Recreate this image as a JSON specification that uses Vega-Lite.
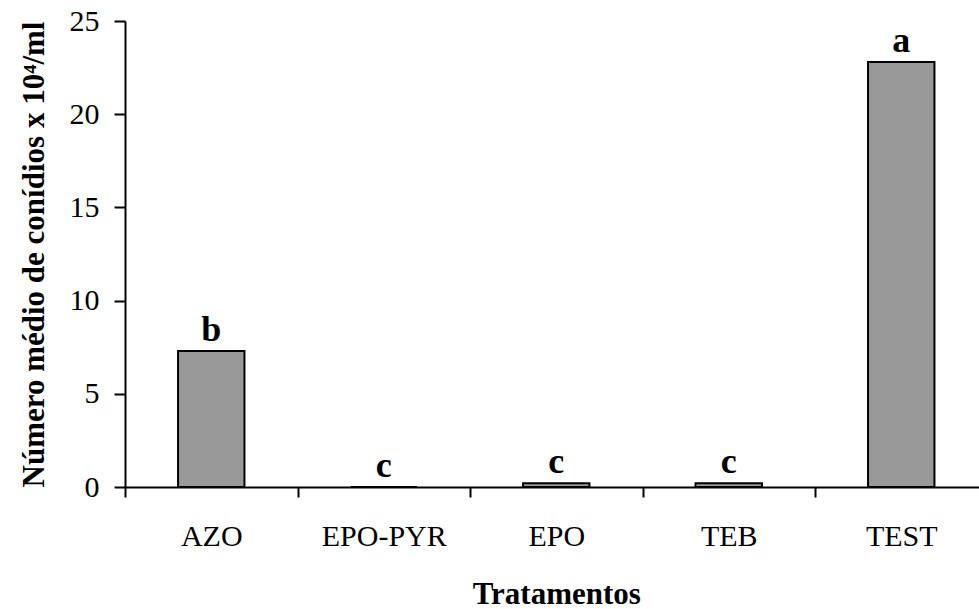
{
  "$schema": "https://vega.github.io/schema/vega-lite/v6.json",
  "autosize": "none",
  "width": 854,
  "height": 466,
  "padding": {"left": 125, "top": 21, "right": 0, "bottom": 122},
  "background": "white",
  "config": {"view": {"stroke": null}, "font": "Liberation Serif"},
  "data": {
    "values": [
      {"tratamento": "AZO", "media": 7.3, "letra": "b"},
      {"tratamento": "EPO-PYR", "media": 0.0, "letra": "c"},
      {"tratamento": "EPO", "media": 0.2, "letra": "c"},
      {"tratamento": "TEB", "media": 0.2, "letra": "c"},
      {"tratamento": "TEST", "media": 22.8, "letra": "a"}
    ]
  },
  "encoding": {
    "x": {
      "field": "tratamento",
      "type": "nominal",
      "sort": null,
      "scale": {"range": [0, 862.5], "paddingInner": 0, "paddingOuter": 0},
      "axis": {
        "title": "Tratamentos",
        "titleFont": "Liberation Serif",
        "titleFontSize": 31,
        "titleFontWeight": "bold",
        "titleColor": "black",
        "titleX": 431.25,
        "titleY": 116,
        "titleBaseline": "alphabetic",
        "titleAlign": "center",
        "labelAngle": 0,
        "labelFont": "Liberation Serif",
        "labelFontSize": 30,
        "labelColor": "black",
        "labelPadding": 24,
        "tickBand": "extent",
        "tickSize": 10,
        "tickWidth": 2,
        "tickColor": "black",
        "domainColor": "black",
        "domainWidth": 2,
        "grid": false
      }
    },
    "y": {
      "field": "media",
      "type": "quantitative",
      "scale": {"domain": [0, 25], "nice": false},
      "axis": {
        "values": [0, 5, 10, 15, 20, 25],
        "title": "Número médio de conídios x 10⁴/ml",
        "titleFont": "Liberation Serif",
        "titleFontSize": 31,
        "titleFontWeight": "bold",
        "titleColor": "black",
        "titleAngle": -90,
        "titleX": -82,
        "titleY": 233,
        "titleBaseline": "alphabetic",
        "titleAlign": "center",
        "labelFont": "Liberation Serif",
        "labelFontSize": 30,
        "labelColor": "black",
        "labelPadding": 15,
        "tickSize": 11,
        "tickWidth": 2,
        "tickColor": "black",
        "domainColor": "black",
        "domainWidth": 2,
        "grid": false
      }
    }
  },
  "layer": [
    {
      "mark": {
        "type": "bar",
        "width": {"band": 0.385},
        "fill": "#999999",
        "stroke": "black",
        "strokeWidth": 2
      }
    },
    {
      "mark": {
        "type": "text",
        "baseline": "alphabetic",
        "dy": -10,
        "font": "Liberation Serif",
        "fontSize": 36,
        "fontWeight": "bold",
        "color": "black"
      },
      "encoding": {"text": {"field": "letra"}}
    }
  ]
}
